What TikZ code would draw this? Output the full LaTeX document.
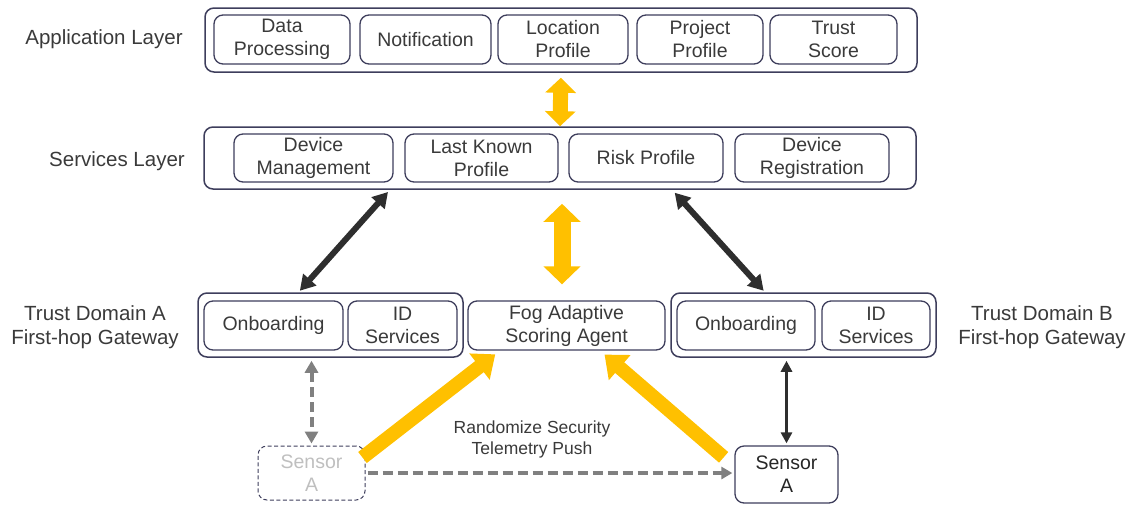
\documentclass[tikz,border=0pt]{standalone}
\usepackage{fontspec}
\setmainfont{Liberation Sans}
\usepackage{tikz}
\usetikzlibrary{
  arrows.meta,%
  calc,%
  positioning
}
\definecolor{boxcol}{HTML}{3E3E5C}
\definecolor{txtcol}{HTML}{3A3A3A}
\definecolor{fogyellow}{HTML}{FFC000}
\definecolor{darkarrow}{HTML}{2E2E2E}
\definecolor{ghostgray}{HTML}{808080}
\tikzset{
  layerbox/.style={draw=boxcol, line width=1.5pt, rounded corners=9pt,
    inner sep=0pt},
  itembox/.style={draw=boxcol, line width=1.3pt, rounded corners=9pt,
    align=center, text=txtcol, inner sep=0pt,
    font=\fontsize{19.5}{23}\selectfont},
  sidelabel/.style={align=center, text=txtcol,
    font=\fontsize{20.5}{24}\selectfont},
  % thick yellow arrows
  fogarrow/.style={draw=fogyellow, line width=#1},
  darkline/.style={draw=darkarrow, line width=#1},
  ghostline/.style={draw=ghostgray, line width=#1, dash pattern=on 10pt off 5pt}
}

\begin{document}
\begin{tikzpicture}[x=1pt, y=-1pt]
  \useasboundingbox (0,0) rectangle (1134,504); %
  % layers
  \node[layerbox, minimum width=712pt, minimum height=64pt] (app) at (561,40) {}; %
  \node[layerbox, minimum width=712pt, minimum height=62pt] (svc) at (560,158) {}; %
  \node[layerbox, minimum width=265pt, minimum height=64pt] (domA) at (330.5,325) {}; %
  \node[layerbox, minimum width=265pt, minimum height=64pt] (domB) at (803.5,325) {}; %
  \node[sidelabel] (appL) at (104,39) {Application Layer}; %
  \node[sidelabel] (svcL) at (117,161) {Services Layer}; %
  \node[sidelabel] (domAL) at (95,327) {Trust Domain A\\First-hop Gateway}; %
  \node[sidelabel] (domBL) at (1042,327) {Trust Domain B\\First-hop Gateway}; %
  % application layer
  \node[itembox, minimum width=136pt, minimum height=49pt] (dataproc) at (282,39.5) {Data\\Processing}; %
  \node[itembox, minimum width=131pt, minimum height=49pt] (notif) at (425.5,39.5) {Notification}; %
  \node[itembox, minimum width=130pt, minimum height=49pt] (locprof) at (563,39.5) {Location\\Profile}; %
  \node[itembox, minimum width=126pt, minimum height=49pt] (projprof) at (700,39.5) {Project\\Profile}; %
  \node[itembox, minimum width=127pt, minimum height=49pt] (trustscore) at (833.5,39.5) {Trust\\Score}; %
  % services layer
  \node[itembox, minimum width=159pt, minimum height=48pt] (devmgmt) at (313.5,158) {Device\\Management}; %
  \node[itembox, minimum width=153pt, minimum height=48pt] (lastknown) at (481.5,158) {Last Known\\Profile}; %
  \node[itembox, minimum width=154pt, minimum height=48pt] (riskprof) at (646,158) {Risk Profile}; %
  \node[itembox, minimum width=154pt, minimum height=48pt] (devreg) at (812,158) {Device\\Registration}; %
  % gateways and agent
  \node[itembox, minimum width=139pt, minimum height=49pt] (onbA) at (273.5,325.5) {Onboarding}; %
  \node[itembox, minimum width=109pt, minimum height=49pt] (idA) at (402.5,325.5) {ID\\Services}; %
  \node[itembox, minimum width=197pt, minimum height=49pt] (fog) at (566.5,325.5) {Fog Adaptive\\Scoring Agent}; %
  \node[itembox, minimum width=138pt, minimum height=49pt] (onbB) at (746,325.5) {Onboarding}; %
  \node[itembox, minimum width=108pt, minimum height=49pt] (idB) at (876,325.5) {ID\\Services}; %
  % sensors
  \node[itembox, dash pattern=on 4pt off 2.5pt, line width=1pt, text=black!25,
    minimum width=107pt, minimum height=54pt] (ghostS) at (311.5,473) {Sensor\\A}; %
  \node[itembox, text=black!85, minimum width=103pt, minimum height=57pt] (sensorB) at (786.5,474.5) {Sensor\\A}; %
  \node[sidelabel, font=\fontsize{17.5}{21}\selectfont] (pushL) at (532,439) {Randomize Security\\Telemetry Push}; %
  % yellow arrows
  \draw[fogarrow=15pt, {Triangle[width=30pt,length=15pt]}-{Triangle[width=30pt,length=15pt]},
    shorten <=5pt] (app.south) -- (svc.north); %
  \draw[fogarrow=17pt, {Triangle[width=36pt,length=18pt]}-{Triangle[width=36pt,length=18pt]},
    shorten <=14pt, shorten >=16pt] ([xshift=2pt]svc.south) -- ([xshift=-4.5pt]fog.north); %
  \draw[fogarrow=14pt, -{Triangle[width=32pt,length=20pt]}, shorten >=6pt]
    ([xshift=-3pt,yshift=-12pt]ghostS.north east) -- ([xshift=-66.5pt]fog.south); %
  \draw[fogarrow=14pt, -{Triangle[width=32pt,length=20pt]}, shorten >=6pt]
    ([xshift=-115pt,yshift=-12pt]sensorB.north east) -- ([xshift=33.5pt]fog.south); %
  % dark arrows
  \draw[darkline=6pt, {Triangle[width=17pt,length=15pt]}-{Triangle[width=17pt,length=15pt]},
    shorten <=3pt, shorten >=2pt] ([xshift=-170pt]svc.south) -- ([xshift=-32pt]domA.north); %
  \draw[darkline=6pt, {Triangle[width=17pt,length=15pt]}-{Triangle[width=17pt,length=15pt]},
    shorten <=4pt, shorten >=2pt] ([xshift=112pt]svc.south) -- ([xshift=-38.5pt]domB.north); %
  \draw[darkline=3pt, {Triangle[width=11pt,length=11pt]}-{Triangle[width=11pt,length=11pt]},
    shorten <=3pt, shorten >=2pt] (sensorB.north |- domB.south) -- (sensorB.north); %
  % gray dashed arrows
  \draw[ghostline=4pt, {Triangle[width=13pt,length=12pt]}-{Triangle[width=13pt,length=12pt]},
    shorten <=3pt, shorten >=2pt] (ghostS.north |- domA.south) -- (ghostS.north); %
  \draw[ghostline=3.5pt, -{Triangle[width=12pt,length=11pt]}, shorten <=2pt, shorten >=2pt]
    (ghostS.east) -- (sensorB.west |- ghostS.east); %
\end{tikzpicture}
\end{document}
